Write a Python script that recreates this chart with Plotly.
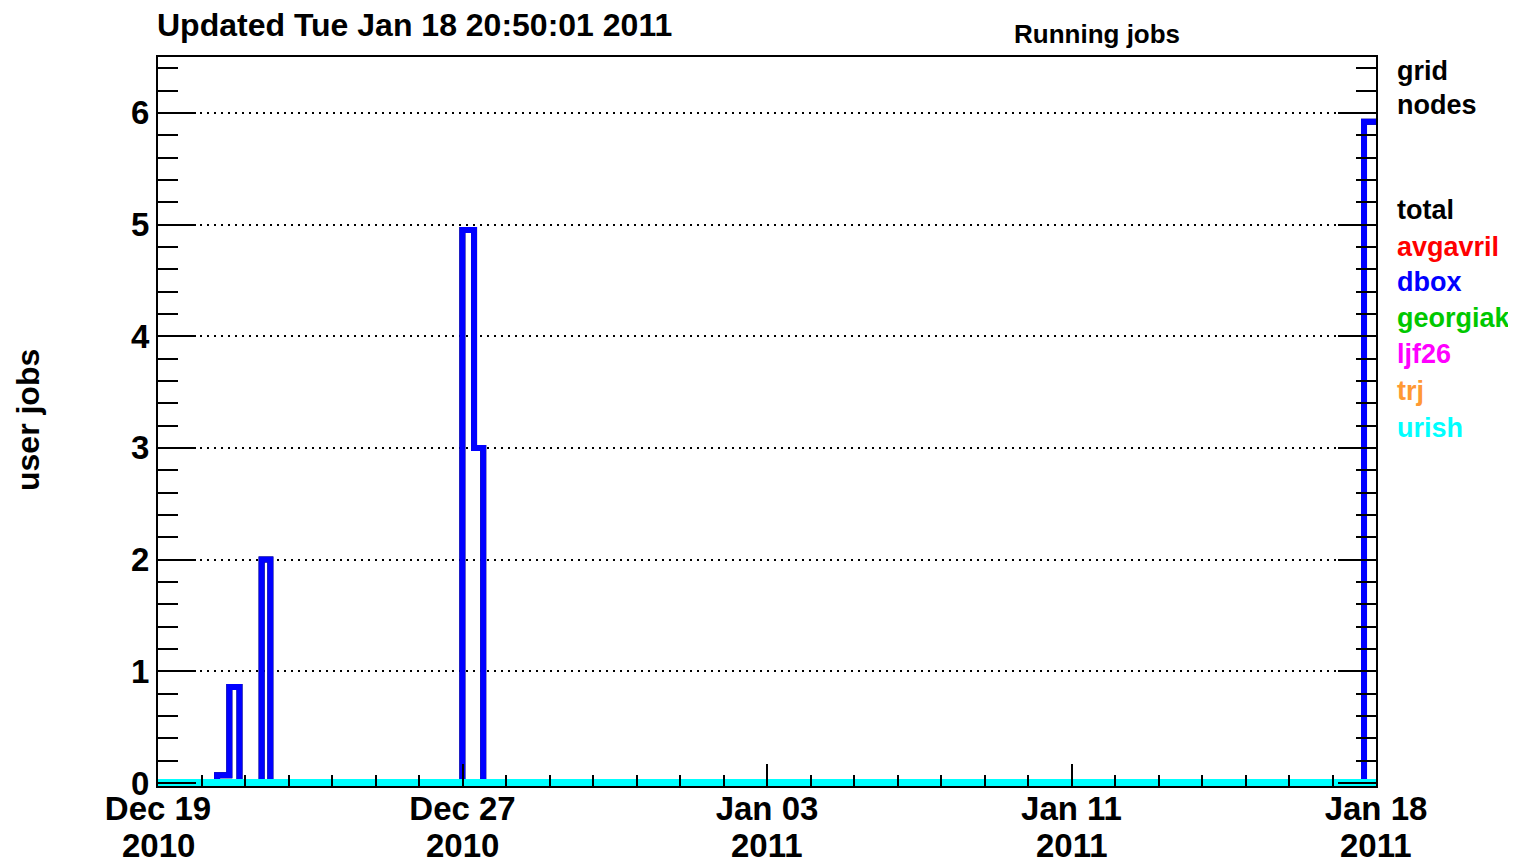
import pandas as pd
import plotly.graph_objects as go

# ---- data ----
range_start = "2010-12-19 20:50:01"
range_end = "2011-01-18 20:50:01"

times = ["2010-12-19 20:50", "2010-12-21 07:45", "2010-12-21 15:00", "2010-12-21 21:00",
         "2010-12-22 10:05", "2010-12-22 15:15", "2010-12-27 08:45", "2010-12-27 15:40",
         "2010-12-27 21:05", "2011-01-18 13:45", "2011-01-18 20:50"]
dbox = [0, 0.07, 0.86, 0, 2.0, 0, 4.95, 3.0, 0, 5.92, 5.92]
total = [0, 0.07, 0.86, 0, 2.0, 0, 4.95, 3.0, 0, 5.92, 5.92]
avgavril = [0] * 11
georgiak = [0] * 11
ljf26 = [0] * 11
trj = [0] * 11
urish = [0] * 11

major_ticks = ["2010-12-19 20:50:01", "2010-12-27 08:50:01", "2011-01-03 20:50:01",
               "2011-01-11 08:50:01", "2011-01-18 20:50:01"]
tick_dates = ["Dec 19", "Dec 27", "Jan 03", "Jan 11", "Jan 18"]
tick_years = ["2010", "2010", "2011", "2011", "2011"]
y_ticks = [0, 1, 2, 3, 4, 5, 6]

series = [("total", total, "#000000"),
          ("avgavril", avgavril, "#ff0000"),
          ("dbox", dbox, "#0000ff"),
          ("georgiak", georgiak, "#00c800"),
          ("ljf26", ljf26, "#ff00ff"),
          ("trj", trj, "#ff9933"),
          ("urish", urish, "#00ffff")]
legend_labels = [("grid", "#000000", 71), ("nodes", "#000000", 105),
                 ("total", "#000000", 210), ("avgavril", "#ff0000", 247),
                 ("dbox", "#0000ff", 282), ("georgiak", "#00c800", 318),
                 ("ljf26", "#ff00ff", 354), ("trj", "#ff9933", 391),
                 ("urish", "#00ffff", 428)]

FONT = "Liberation Sans"
OFF = 8  # page body margin in the browser

fig = go.Figure()
for name, vals, col in series:
    fig.add_trace(go.Scatter(x=pd.to_datetime(times), y=vals, mode="lines",
                             line=dict(color=col, width=8 if name == "urish" else 6, shape="hv"),
                             name=name, showlegend=False))

# minor x ticks: 7 subdivisions per major interval
mt = pd.to_datetime(major_ticks)
minor = []
for a, b in zip(mt[:-1], mt[1:]):
    step = (b - a) / 7
    minor += [a + step * k for k in range(1, 7)]

W, H = 1516 - OFF, 862 - OFF
# target plot area in screen pixels: left 158, right 1376, top 57, bottom 786
L = 158 - OFF
T = 57 - OFF
R = W - (1376 - OFF)
B = H - (786 - OFF)
plot_h = H - T - B
ppu = (783 - 57) / 6.5
ymin = -(786 - 783) / ppu

fig.update_layout(
    width=W, height=H,
    margin=dict(l=L, r=R, t=T, b=B, autoexpand=False),
    paper_bgcolor="white", plot_bgcolor="white",
    font=dict(family=FONT, color="black", size=32, weight="bold"),
    xaxis=dict(type="date", range=[range_start, range_end], automargin=False,
               tickmode="array", tickvals=mt, ticktext=tick_dates,
               ticks="inside", ticklen=22, tickwidth=2, tickcolor="black",
               ticklabelstandoff=-8,
               showline=True, linecolor="black", linewidth=2, mirror=True,
               showgrid=False, zeroline=False,
               tickfont=dict(family=FONT, size=33, weight="bold"),
               minor=dict(tickmode="array", tickvals=minor, ticks="inside",
                          ticklen=11, tickwidth=1.5, tickcolor="black", showgrid=False)),
    yaxis=dict(range=[ymin, 6.5], automargin=False, tickmode="array", tickvals=y_ticks,
               ticks="inside", ticklen=38, tickwidth=2, tickcolor="black",
               showline=True, linecolor="black", linewidth=2, mirror="ticks",
               showgrid=True, gridcolor="black", gridwidth=1.5, griddash="2px,5px",
               zeroline=False,
               tickfont=dict(family=FONT, size=33, weight="bold"),
               minor=dict(dtick=0.2, tick0=0, ticks="inside", ticklen=20,
                          tickwidth=1.5, tickcolor="black", showgrid=False)),
)

def px_x(x):
    return (x - OFF - L) / (W - L - R)

def px_y(y):
    return (H - B - (y - OFF)) / plot_h

annos = [
    dict(text="Updated Tue Jan 18 20:50:01 2011", x=px_x(155), y=px_y(25), xanchor="left",
         yanchor="middle", font=dict(size=32)),
    dict(text="Running jobs", x=px_x(1097), y=px_y(34), xanchor="center", yanchor="middle",
         font=dict(size=26)),
    dict(text="user jobs", x=px_x(28), y=px_y(420), xanchor="center", yanchor="middle",
         textangle=-90, font=dict(size=32)),
]
for lab, col, yy in legend_labels:
    annos.append(dict(text=lab, x=px_x(1395), y=px_y(yy), xanchor="left", yanchor="middle",
                      font=dict(size=27, color=col)))
for a in annos:
    a.update(xref="paper", yref="paper")
for d, yr in zip(mt, tick_years):
    annos.append(dict(text=yr, x=d, xref="x", y=px_y(845), yref="paper",
                      xanchor="center", yanchor="middle", borderpad=0, font=dict(size=33)))
for a in annos:
    a.update(showarrow=False)
    a["font"].update(family=FONT, weight="bold", color=a["font"].get("color", "black"))
fig.update_layout(annotations=annos)

fig.write_html("out.html")
